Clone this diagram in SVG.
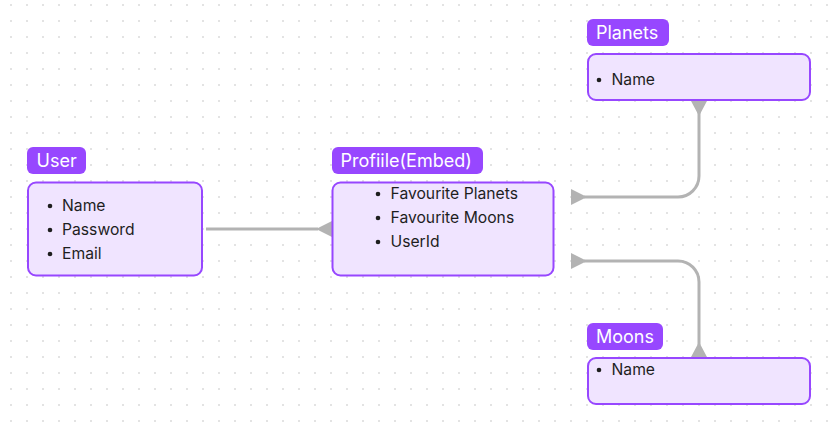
<svg xmlns="http://www.w3.org/2000/svg" width="836" height="433" viewBox="0 0 836 433">
<defs>
<pattern id="dots" x="10" y="4" width="16" height="16" patternUnits="userSpaceOnUse">
<rect x="0" y="0" width="2" height="2" fill="#e3e3e3"/>
</pattern>
<style>
.lbl{fill:#9747ff;}
.lt{font-family:Inter,"Liberation Sans",sans-serif;font-size:18px;fill:#ffffff;font-weight:400;}
.box{fill:#f0e4ff;stroke:#9747ff;stroke-width:2;}
.it{font-family:Inter,"Liberation Sans",sans-serif;font-size:15.7px;fill:#1e1e1e;}
.bul{fill:#1e1e1e;}
.wire{fill:none;stroke:#b3b3b3;stroke-width:3;}
.head{fill:#b3b3b3;}
</style>
</defs>
<rect width="836" height="433" fill="#ffffff"/>
<rect width="836" height="433" fill="url(#dots)"/>
<g id="connectors">
<path class="wire" d="M206 229 H318"/>
<polygon class="head" points="316,229 332,221 332,237"/>
<path class="wire" d="M584 197 H678 A21 21 0 0 0 699 176 V112"/>
<polygon class="head" points="571,189 571,205 587,197"/>
<polygon class="head" points="691,101 707,101 699,116"/>
<path class="wire" d="M584 261 H678 A21 21 0 0 1 699 282 V345"/>
<polygon class="head" points="571,253 571,269 587,261"/>
<polygon class="head" points="691,357 707,357 699,342"/>
</g>
<g id="user">
<rect class="lbl" x="27" y="147" width="59" height="27" rx="6"/>
<text class="lt" x="36.5" y="167">User</text>
<rect class="box" x="28" y="182.5" width="174" height="93" rx="8"/>
<circle class="bul" cx="50" cy="206" r="2.3"/>
<text class="it" x="62" y="211">Name</text>
<circle class="bul" cx="50" cy="230" r="2.3"/>
<text class="it" x="62" y="235">Password</text>
<circle class="bul" cx="50" cy="254" r="2.3"/>
<text class="it" x="62" y="259">Email</text>
</g>
<g id="profile">
<rect class="lbl" x="332" y="147" width="151" height="27" rx="6"/>
<text class="lt" x="340.5" y="167">Profiile(Embed)</text>
<rect class="box" x="332.5" y="182.5" width="221" height="93" rx="8"/>
<circle class="bul" cx="378" cy="194" r="2.3"/>
<text class="it" x="390.5" y="199">Favourite Planets</text>
<circle class="bul" cx="378" cy="218" r="2.3"/>
<text class="it" x="390.5" y="223">Favourite Moons</text>
<circle class="bul" cx="378" cy="242" r="2.3"/>
<text class="it" x="390.5" y="247">UserId</text>
</g>
<g id="planets">
<rect class="lbl" x="587" y="19" width="82" height="27" rx="6"/>
<text class="lt" x="596" y="39">Planets</text>
<rect class="box" x="588" y="54" width="222" height="46" rx="8"/>
<circle class="bul" cx="599" cy="80" r="2.3"/>
<text class="it" x="611.5" y="85">Name</text>
</g>
<g id="moons">
<rect class="lbl" x="587" y="323" width="76" height="27" rx="6"/>
<text class="lt" x="596" y="343">Moons</text>
<rect class="box" x="588" y="358" width="222" height="46" rx="8"/>
<circle class="bul" cx="599" cy="370" r="2.3"/>
<text class="it" x="611.5" y="375">Name</text>
</g>
</svg>
